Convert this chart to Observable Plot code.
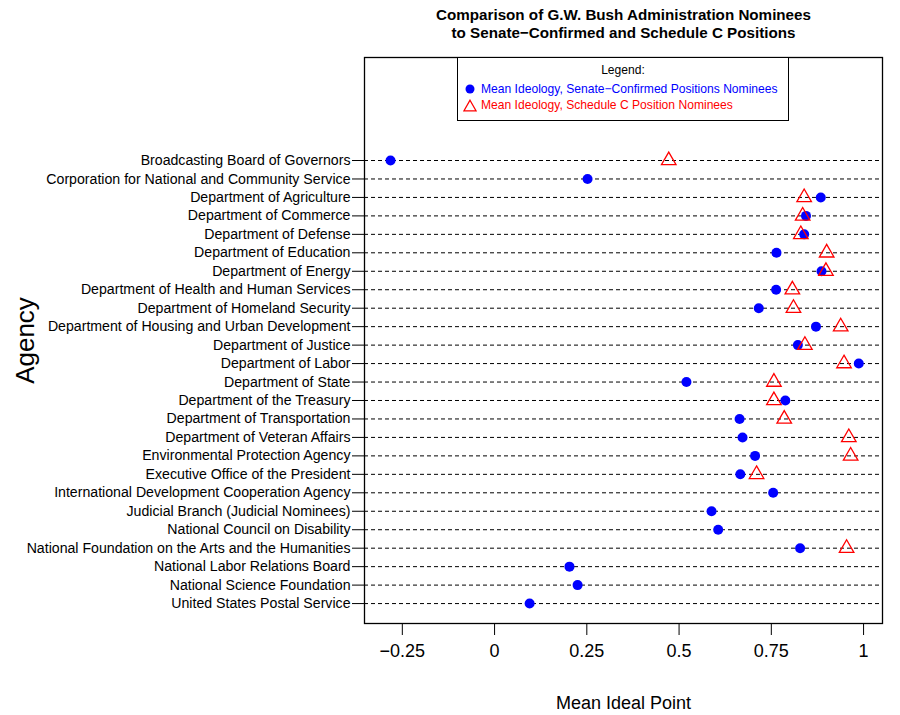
<!DOCTYPE html>
<html>
<head>
<meta charset="utf-8">
<script src="https://cdn.jsdelivr.net/npm/d3@7"></script>
<script src="https://cdn.jsdelivr.net/npm/@observablehq/plot@0.6"></script>
<style>
  body { margin: 0; background: #fff; font-family: "Liberation Sans", Arial, Helvetica, sans-serif; }
  #wrap { position: relative; width: 900px; height: 715px; }
  #legend { position: absolute; left: 457px; top: 57px; width: 332px; height: 64px; border: 1px solid #000; background: #fff; box-sizing: border-box; font-size: 12.1px; }
  #legend .hdr { position: absolute; left: 0; right: 0; top: 5px; text-align: center; color: #000; }
  #legend .row { position: absolute; left: 5px; white-space: nowrap; display: flex; align-items: center; }
  #legend .row svg { margin-right: 4px; }
</style>
</head>
<body>
<div id="wrap">
  <div id="chart"></div>
  <div id="legend"></div>
</div>
<script>
const agencies = [
  "Broadcasting Board of Governors",
  "Corporation for National and Community Service",
  "Department of Agriculture",
  "Department of Commerce",
  "Department of Defense",
  "Department of Education",
  "Department of Energy",
  "Department of Health and Human Services",
  "Department of Homeland Security",
  "Department of Housing and Urban Development",
  "Department of Justice",
  "Department of Labor",
  "Department of State",
  "Department of the Treasury",
  "Department of Transportation",
  "Department of Veteran Affairs",
  "Environmental Protection Agency",
  "Executive Office of the President",
  "International Development Cooperation Agency",
  "Judicial Branch (Judicial Nominees)",
  "National Council on Disability",
  "National Foundation on the Arts and the Humanities",
  "National Labor Relations Board",
  "National Science Foundation",
  "United States Postal Service"
];
const senateConfirmed = [
  -0.282, 0.252, 0.884, 0.844, 0.839, 0.764, 0.886, 0.763, 0.716, 0.871,
  0.822, 0.987, 0.520, 0.788, 0.664, 0.672, 0.706, 0.666, 0.755, 0.588,
  0.606, 0.828, 0.203, 0.225, 0.095
];
const scheduleC = [
  0.472, null, 0.839, 0.835, 0.830, 0.900, 0.898, 0.807, 0.810, 0.938,
  0.841, 0.947, 0.757, 0.757, 0.785, 0.960, 0.965, 0.710, null, null,
  null, 0.954, null, null, null
];
const xTicks = [-0.25, 0, 0.25, 0.5, 0.75, 1];
const xTickLabels = ["\u22120.25", "0", "0.25", "0.5", "0.75", "1"];
const titleLines = ["Comparison of G.W. Bush Administration Nominees", "to Senate\u2212Confirmed and Schedule C Positions"];
const seriesNames = ["Mean Ideology, Senate\u2212Confirmed Positions Nominees", "Mean Ideology, Schedule C Position Nominees"];

const idx = agencies.map((_, i) => i);
const senateData = idx.map(i => ({i, v: senateConfirmed[i]}));
const schedData = idx.filter(i => scheduleC[i] != null).map(i => ({i, v: scheduleC[i]}));

const font = "Liberation Sans, Arial, Helvetica, sans-serif";

const chart = Plot.plot({
  width: 900,
  height: 715,
  marginLeft: 364,
  marginRight: 18,
  marginTop: 57,
  marginBottom: 92,
  style: {fontFamily: font, background: "#fff", color: "#000", overflow: "visible"},
  x: {domain: [-0.3525, 1.0513]},
  y: {domain: [25.08, -5.58]},
  marks: [
    Plot.ruleY(idx, {y: d => d, stroke: "#000", strokeWidth: 1, strokeDasharray: "4,3"}),
    Plot.axisY({ticks: idx, tickFormat: i => agencies[i], tickSize: 12, tickPadding: 2, fontSize: 14.15, label: null, stroke: "#000", strokeWidth: 1}),
    Plot.axisX({ticks: xTicks, tickFormat: d => xTickLabels[xTicks.indexOf(d)], tickSize: 12, tickPadding: 9, fontSize: 18, label: null, strokeWidth: 1}),
    Plot.dot(senateData, {x: "v", y: "i", r: 5, fill: "#0000ff", stroke: "none", symbol: "circle"}),
    Plot.dot(schedData, {x: "v", y: "i", r: 5.4, fill: "none", stroke: "#ff0000", strokeWidth: 1.3, symbol: "triangle"}),
    Plot.frame({stroke: "#000", strokeWidth: 1.3}),
    Plot.text([titleLines[0]], {frameAnchor: "top", dy: -42, text: d => d, fontSize: 15.2, fontWeight: "bold", lineAnchor: "middle", fill: "#000"}),
    Plot.text([titleLines[1]], {frameAnchor: "top", dy: -24, text: d => d, fontSize: 15.2, fontWeight: "bold", lineAnchor: "middle", fill: "#000"}),
    Plot.text(["Agency"], {frameAnchor: "left", dx: -339, rotate: -90, text: d => d, fontSize: 26, lineAnchor: "middle", textAnchor: "middle", fill: "#000"}),
    Plot.text(["Mean Ideal Point"], {frameAnchor: "bottom", dy: 80, text: d => d, fontSize: 18, lineAnchor: "middle", fill: "#000"})
  ]
});
document.getElementById("chart").appendChild(chart);

const legend = document.getElementById("legend");
legend.innerHTML = `
  <div class="hdr">Legend:</div>
  <div class="row" style="top:24px;color:#0000ff"><svg width="14" height="12"><circle cx="7" cy="6" r="4.5" fill="#0000ff"/></svg>${seriesNames[0]}</div>
  <div class="row" style="top:40px;color:#ff0000"><svg width="14" height="13"><path d="M7,1.2 L13,11.8 L1,11.8 Z" fill="none" stroke="#ff0000" stroke-width="1.3"/></svg>${seriesNames[1]}</div>
`;
</script>
</body>
</html>
